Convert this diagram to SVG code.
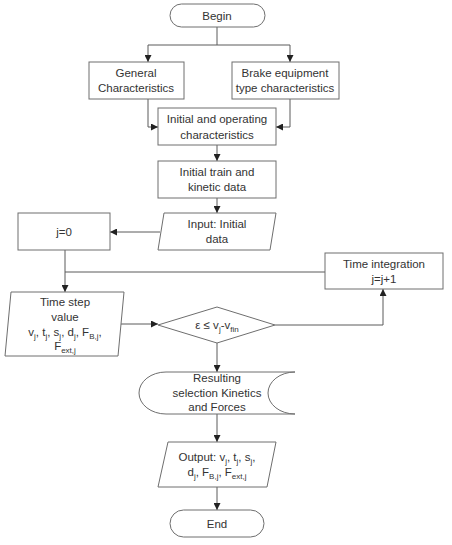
<svg xmlns="http://www.w3.org/2000/svg" width="452" height="545" viewBox="0 0 452 545">
<style>
.s{fill:#fff;stroke:#6e6e6e;stroke-width:1}
.c{fill:none;stroke:#5a5a5a;stroke-width:1}
text{font-family:"Liberation Sans",Arial,sans-serif;font-size:11.5px;fill:#333;text-anchor:middle}
.sub{font-size:8px}
</style>
<defs>
<marker id="a" viewBox="0 0 8 8" refX="8" refY="4" markerWidth="7" markerHeight="7" orient="auto" markerUnits="userSpaceOnUse">
<path d="M0,0 L8,4 L0,8 Z" fill="#222"/>
</marker>
</defs>
<g id="connectors">
<path class="c" d="M217,27 V45 M148,45 H290"/>
<path class="c" d="M148,45 V62" marker-end="url(#a)"/>
<path class="c" d="M290,45 V62" marker-end="url(#a)"/>
<path class="c" d="M148,99 V127 H158" marker-end="url(#a)"/>
<path class="c" d="M290,99 V127 H276" marker-end="url(#a)"/>
<path class="c" d="M217,145 V161" marker-end="url(#a)"/>
<path class="c" d="M217,198 V213" marker-end="url(#a)"/>
<path class="c" d="M160,232 H110" marker-end="url(#a)"/>
<path class="c" d="M65,250 V292" marker-end="url(#a)"/>
<path class="c" d="M65,272 H325"/>
<path class="c" d="M120,324 H158" marker-end="url(#a)"/>
<path class="c" d="M275,325 H383 V289" marker-end="url(#a)"/>
<path class="c" d="M217,343 V372" marker-end="url(#a)"/>
<path class="c" d="M217,414 V442" marker-end="url(#a)"/>
<path class="c" d="M217,487 V510" marker-end="url(#a)"/>
</g>
<g id="begin"><rect class="s" x="170" y="4" width="95" height="23" rx="11.5"/><text x="217" y="20">Begin</text></g>
<g id="general"><rect class="s" x="89" y="62" width="95" height="37"/><text x="136" y="77">General</text><text x="136" y="92">Characteristics</text></g>
<g id="brake"><rect class="s" x="232" y="62" width="107" height="37"/><text x="285" y="77">Brake equipment</text><text x="285" y="92">type characteristics</text></g>
<g id="initop"><rect class="s" x="158" y="108" width="118" height="37"/><text x="217" y="123">Initial and operating</text><text x="217" y="139">characteristics</text></g>
<g id="inittrain"><rect class="s" x="158" y="161" width="118" height="37"/><text x="217" y="176">Initial train and</text><text x="217" y="191">kinetic data</text></g>
<g id="input"><path class="s" d="M164,213 H276 L270,250 H158 Z"/><text x="217" y="228">Input: Initial</text><text x="217" y="243">data</text></g>
<g id="j0"><rect class="s" x="18" y="213" width="92" height="37"/><text x="64" y="236">j=0</text></g>
<g id="timeint"><rect class="s" x="325" y="253" width="118" height="36"/><text x="384" y="268">Time integration</text><text x="384" y="283">j=j+1</text></g>
<g id="timestep"><path class="s" d="M11,292 H124 L118,356 H5 Z"/>
<text x="65" y="306">Time step</text><text x="65" y="321">value</text>
<text x="65" y="336">v<tspan class="sub" dy="3">j</tspan><tspan dy="-3">, t</tspan><tspan class="sub" dy="3">j</tspan><tspan dy="-3">, s</tspan><tspan class="sub" dy="3">j</tspan><tspan dy="-3">, d</tspan><tspan class="sub" dy="3">j</tspan><tspan dy="-3">, F</tspan><tspan class="sub" dy="3">B,j</tspan><tspan dy="-3">,</tspan></text>
<text x="65" y="350">F<tspan class="sub" dy="3">ext,j</tspan></text></g>
<g id="decision"><path class="s" d="M217,307 L275,325 L217,343 L158,325 Z"/><text x="217" y="329">ε ≤ v<tspan class="sub" dy="3">j</tspan><tspan dy="-3">-v</tspan><tspan class="sub" dy="3">fin</tspan></text></g>
<g id="resulting"><path class="s" d="M166,372 H295 A27 21 0 0 0 295 414 H166 A27 21 0 0 1 166 372 Z"/><text x="217" y="382">Resulting</text><text x="217" y="397">selection Kinetics</text><text x="217" y="411">and Forces</text></g>
<g id="output"><path class="s" d="M168,442 H276 L267,487 H158 Z"/>
<text x="217" y="461">Output: v<tspan class="sub" dy="3">j</tspan><tspan dy="-3">, t</tspan><tspan class="sub" dy="3">j</tspan><tspan dy="-3">, s</tspan><tspan class="sub" dy="3">j</tspan><tspan dy="-3">,</tspan></text>
<text x="217" y="476">d<tspan class="sub" dy="3">j</tspan><tspan dy="-3">, F</tspan><tspan class="sub" dy="3">B,j</tspan><tspan dy="-3">, F</tspan><tspan class="sub" dy="3">ext,j</tspan></text></g>
<g id="end"><rect class="s" x="170" y="510" width="94" height="27" rx="13.5"/><text x="217" y="528">End</text></g>
</svg>
